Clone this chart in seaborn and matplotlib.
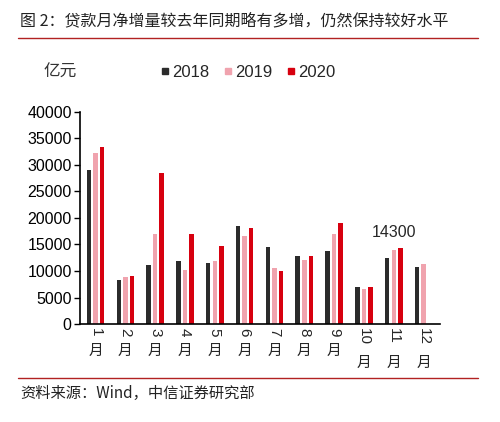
import matplotlib
matplotlib.use("Agg")
import matplotlib.pyplot as plt
import seaborn as sns
import pandas as pd
from matplotlib.lines import Line2D

months = [str(i) for i in range(1, 13)]
years = ["2018", "2019", "2020"]
loans_2018 = [29000, 8393, 11200, 11800, 11500, 18400, 14500, 12800, 13800, 6970, 12500, 10800]
loans_2019 = [32300, 8858, 16900, 10200, 11800, 16600, 10600, 12100, 16900, 6613, 13900, 11400]
loans_2020 = [33400, 9057, 28500, 17000, 14800, 18100, 9927, 12800, 19000, 6898, 14300, None]
colors = ["#2b2b2b", "#f0a3ae", "#d7000f"]

rows = []
for year, vals in zip(years, [loans_2018, loans_2019, loans_2020]):
    for m, v in zip(months, vals):
        if v is not None:
            rows.append({"month": m, "year": year, "value": v})
df = pd.DataFrame(rows)

sns.set_style("white")
plt.rcParams["font.family"] = ["Liberation Sans", "Noto Sans CJK SC", "DejaVu Sans"]

fig = plt.figure(figsize=(5, 4.22), dpi=100)
ax = fig.add_axes([0.16, 0.232, 0.72, 0.503])

sns.barplot(data=df, x="month", y="value", hue="year", order=months,
            hue_order=years, palette=colors, width=0.66, saturation=1,
            errorbar=None, ax=ax, legend=False)

# thin bars with gaps, like the original
for p in ax.patches:
    w = p.get_width()
    x = p.get_x()
    p.set_width(w * 0.68)
    p.set_x(x + w * 0.16)
    p.set_linewidth(0)

ax.set_ylim(0, 40000)
ax.set_yticks(range(0, 40001, 5000))
ax.set_xlim(-0.52, 11.55)
ax.set_xlabel("")
ax.set_ylabel("")
ax.tick_params(axis="y", which="both", left=True, length=4, width=1, labelsize=11.5, pad=2, colors="black")
ax.tick_params(axis="x", bottom=False)
ax.set_xticks(range(12))
ax.set_xticklabels([])
for s in ["top", "right"]:
    ax.spines[s].set_visible(False)
for s in ["left", "bottom"]:
    ax.spines[s].set_color("black")
    ax.spines[s].set_linewidth(1.2)

# month labels: rotated number with upright 月 below
for i, m in enumerate(months):
    ax.annotate(m, xy=(i, 0), xycoords="data", xytext=(0, -3), textcoords="offset points",
                rotation=270, ha="center", va="top", fontsize=11, annotation_clip=False)
    off = -14.5 if len(m) == 1 else -23
    ax.annotate("月", xy=(i, 0), xycoords="data", xytext=(0, off), textcoords="offset points",
                ha="center", va="top", fontsize=10.5, family="Noto Sans CJK SC",
                annotation_clip=False)

ax.annotate("14300", xy=(10, 14300), xytext=(0, 6), textcoords="offset points",
            ha="center", va="bottom", fontsize=11.5)

handles = [Line2D([], [], marker="s", linestyle="", markersize=4,
                  markerfacecolor=c, markeredgecolor=c) for c in colors]
fig.legend(handles, years, loc="center", bbox_to_anchor=(0.495, 0.829), ncol=3,
           frameon=False, handletextpad=0.05, columnspacing=0.8,
           handlelength=0.7, prop={"family": "Liberation Sans", "size": 12})

fig.text(0.12, 0.829, "亿元", ha="center", va="center", fontsize=12,
         family="Noto Sans CJK SC", color="#333333")
fig.text(0.04, 0.952, "图 2：贷款月净增量较去年同期略有多增，仍然保持较好水平",
         ha="left", va="center", fontsize=11.5, family="Noto Sans CJK SC", color="#222222")
fig.add_artist(Line2D([0.036, 0.956], [0.91, 0.91], color="#b22222", linewidth=1))
fig.add_artist(Line2D([0.036, 0.956], [0.104, 0.104], color="#b22222", linewidth=1))
fig.text(0.04, 0.068, "资料来源：Wind，中信证券研究部", ha="left", va="center",
         fontsize=11, family=["Noto Sans CJK SC", "DejaVu Sans"], color="#222222")

fig.savefig("out.png", dpi=100)
